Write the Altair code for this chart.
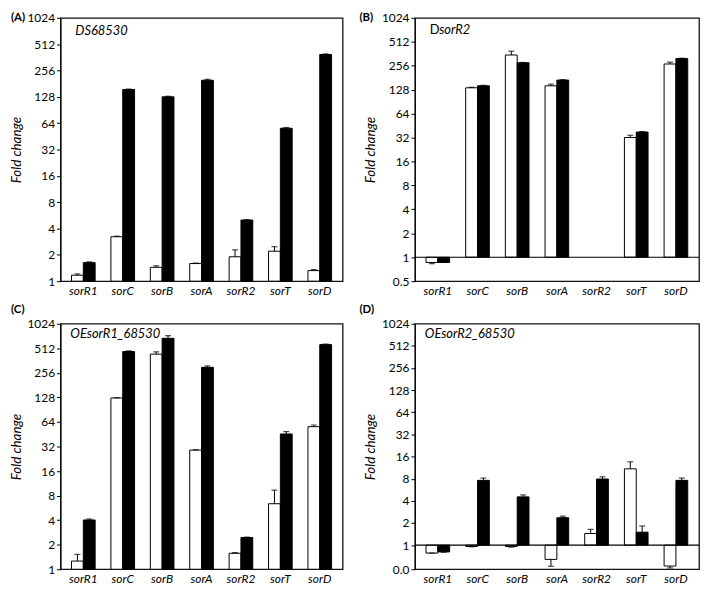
import altair as alt
import pandas as pd

FONT = "Lato"
genes = ["sorR1", "sorC", "sorB", "sorA", "sorR2", "sorT", "sorD"]

# Panel A  DS68530
a_white = [1.17, 3.22, 1.44, 1.59, 1.90, 2.20, 1.32]
a_white_err = [1.21, 3.27, 1.50, 1.61, 2.28, 2.48, 1.36]
a_black = [1.63, 155, 128, 198, 5.0, 56, 390]
a_black_err = [1.66, 157, 130, 203, 5.05, 57, 396]

# Panel B  DsorR2
b_white = [0.86, 135, 349, 143, None, 32, 269]
b_white_err = [0.83, 137, 390, 150, None, 34.2, 284]
b_black = [0.86, 143, 279, 169, None, 37.5, 315]
b_black_err = [0.86, 145, 281, 171, None, 38, 318]

# Panel C  OEsorR1_68530
c_white = [1.26, 126, 434, 28.9, 1.57, 6.36, 56]
c_white_err = [1.52, 127, 463, 29.3, 1.60, 9.33, 58.7]
c_black = [4.02, 467, 679, 299, 2.45, 45.6, 568]
c_black_err = [4.13, 476, 731, 311, 2.48, 48.7, 577]

# Panel D  OEsorR2_68530
d_white = [0.78, 0.96, 0.96, 0.64, 1.44, 10.9, 0.52]
d_white_err = [0.78, 0.95, 0.94, 0.516, 1.64, 13.6, 0.49]
d_black = [0.81, 7.6, 4.53, 2.36, 7.92, 1.5, 7.6]
d_black_err = [0.80, 8.17, 4.82, 2.48, 8.5, 1.82, 8.17]

tick_powers = [1, 2, 4, 8, 16, 32, 64, 128, 256, 512, 1024]


def text_layer(txt, x, y, size=13, style="normal", weight="normal"):
    return alt.Chart(pd.DataFrame({"t": [txt]})).mark_text(
        align="left", baseline="middle", font=FONT, fontSize=size,
        fontStyle=style, fontWeight=weight, color="black"
    ).encode(x=alt.value(x), y=alt.value(y), text="t:N")


def panel(white, white_err, black, black_err, ymin, low_label, letter,
          letter_x, title_parts, w, h, letter_y, title_y, baseline):
    rows = []
    for s, vals, errs in (("a", white, white_err), ("b", black, black_err)):
        for g, v, e in zip(genes, vals, errs):
            if v is not None:
                rows.append(dict(gene=g, series=s, value=v, err=e, base=1))
    df = pd.DataFrame(rows)

    values = ([ymin] if ymin < 1 else []) + tick_powers
    yscale = alt.Scale(type="log", base=2, domain=[ymin, 1024], nice=False)
    yaxis = alt.Axis(
        values=values,
        labelExpr=f"datum.value < 0.99 ? '{low_label}' : format(datum.value, 'd')",
        title="Fold change", titleFont=FONT, titleFontStyle="italic",
        titleFontWeight="normal", titleFontSize=13.5, titleColor="black",
        titlePadding=4, labelFont=FONT, labelFontSize=12, labelColor="black",
        labelPadding=2, tickSize=4, tickColor="black", domainColor="black",
        grid=False,
    )
    xenc = alt.X(
        "gene:N", sort=genes,
        scale=alt.Scale(domain=genes, paddingInner=0.4, paddingOuter=0.28),
        axis=alt.Axis(title=None, labelAngle=0, labelFontStyle="italic",
                      ticks=False, domain=False, labelPadding=4,
                      labelFontSize=12, labelColor="black", labelFont=FONT),
    )
    xoff = alt.XOffset("series:N", sort=["a", "b"],
                       scale=alt.Scale(paddingInner=0, paddingOuter=0))

    base = alt.Chart(df)
    bars = base.mark_bar(stroke="black", strokeWidth=1).encode(
        x=xenc, xOffset=xoff,
        y=alt.Y("value:Q", scale=yscale, axis=yaxis),
        y2="base:Q",
        fill=alt.Fill("series:N", scale=alt.Scale(domain=["a", "b"],
                                                  range=["white", "black"]),
                      legend=None),
    )
    errs = base.mark_rule(color="black", strokeWidth=1).encode(
        x=xenc, xOffset=xoff,
        y=alt.Y("value:Q", scale=yscale, axis=yaxis), y2="err:Q",
    )
    caps = base.mark_tick(color="black", thickness=1.2, size=6).encode(
        x=xenc, xOffset=xoff,
        y=alt.Y("err:Q", scale=yscale, axis=yaxis),
    )
    layers = [bars, errs, caps]
    if baseline:
        layers.append(
            alt.Chart(pd.DataFrame({"b": [1]})).mark_rule(
                color="black", strokeWidth=1.2
            ).encode(y=alt.datum(1))
        )
    layers.append(text_layer(letter, letter_x, letter_y, size=11.5, weight="bold"))
    x0 = 15
    for txt, style, dx in title_parts:
        layers.append(text_layer(txt, x0 + dx, title_y, size=13, style=style))
    return alt.layer(*layers).properties(width=w, height=h)


pA = panel(a_white, a_white_err, a_black, a_black_err, 1, "", "(A)", -50,
           [("DS68530", "italic", 0)], 285, 266, 0, 13, False)
pB = panel(b_white, b_white_err, b_black, b_black_err, 0.5, "0.5", "(B)", -56,
           [("D", "normal", 0), ("sorR2", "italic", 9.5)], 287, 266, 0, 12, True)
pC = panel(c_white, c_white_err, c_black, c_black_err, 1, "", "(C)", -50,
           [("OEsorR1_68530", "italic", -5)], 285, 248, -14, 10, False)
pD = panel(d_white, d_white_err, d_black, d_black_err, 0.47, "0.0", "(D)", -56,
           [("OEsorR2_68530", "italic", -5)], 287, 248, -14, 10, True)

chart = alt.vconcat(
    alt.hconcat(pA, pB, spacing=15),
    alt.hconcat(pC, pD, spacing=15),
    spacing=6,
).properties(
    padding={"left": 0, "top": 0, "right": 0, "bottom": 0},
    background="white",
).configure_view(stroke="#111", strokeWidth=1.3)

chart.save("out.html", embed_options={"renderer": "svg", "actions": False})
